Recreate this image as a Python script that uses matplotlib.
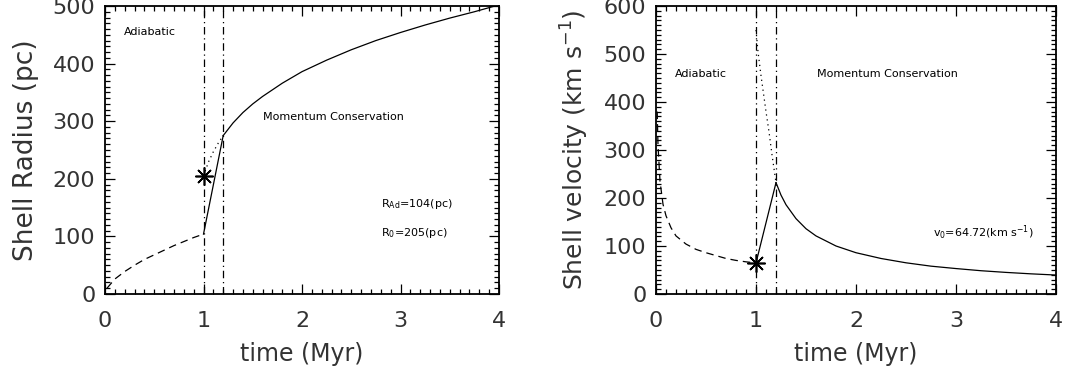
import matplotlib
matplotlib.use("Agg")
import matplotlib.pyplot as plt
from matplotlib.ticker import MultipleLocator

# ---------------- data ----------------
# Left panel: shell radius (pc) vs time (Myr)
t_ad_R = [0.02, 0.1, 0.2, 0.3, 0.4, 0.5, 0.6, 0.7, 0.8, 0.9, 1.0]
R_ad = [10, 26, 39, 50, 60, 68, 76, 84, 91, 98, 104]
t_jump_R = [1.0, 1.2]
R_jump = [104, 275]
t_dot_R = [1.0, 1.05, 1.1, 1.15, 1.2]
R_dot = [205, 229, 247, 262, 275]
t_mom_R = [1.2, 1.3, 1.4, 1.5, 1.6, 1.8, 2.0, 2.25, 2.5, 2.75, 3.0, 3.25, 3.5, 3.75, 4.0]
R_mom = [275, 297, 315, 330, 343, 366, 386, 406, 424, 440, 454, 467, 479, 490, 502]
t_star_R = [1.0]
R_star = [205]

# Right panel: shell velocity (km/s) vs time (Myr)
t_ad_v = [0.012, 0.02, 0.04, 0.07, 0.1, 0.15, 0.2, 0.3, 0.4, 0.5, 0.6, 0.7, 0.8, 0.9, 1.0]
v_ad = [380, 310, 235, 187, 163, 138, 121, 104, 93, 86, 80, 74, 70, 67, 64.7]
t_jump_v = [1.0, 1.2]
v_jump = [64.72, 232]
t_dot_v = [1.0, 1.02, 1.05, 1.08, 1.1, 1.13, 1.16, 1.2]
v_dot = [550, 505, 455, 410, 380, 338, 290, 232]
t_mom_v = [1.2, 1.25, 1.3, 1.4, 1.5, 1.6, 1.8, 2.0, 2.25, 2.5, 2.75, 3.0, 3.25, 3.5, 3.75, 4.0]
v_mom = [232, 206, 186, 157, 136, 121, 100, 86, 74, 65, 58, 53, 48.5, 45, 42, 39.5]
t_star_v = [1.0]
v_star = [64.72]

t_phase = [1.0, 1.2]
xticks = [0, 1, 2, 3, 4]

# ---------------- figure ----------------
fig = plt.figure(figsize=(10.73, 3.74), dpi=100)
TXT = '#333333'
plt.rcParams['font.family'] = ['DejaVu Sans']

ax1 = fig.add_axes([105/1073, 1-294/374, 394/1073, 288/374])
ax2 = fig.add_axes([656/1073, 1-294/374, 400/1073, 288/374])

star = dict(marker=(8, 2, 0), markersize=13, mew=1.2, color='k', linestyle='none')

def style(ax, ymax, ymajor, ymin):
    ax.set_xlim(0, 4)
    ax.set_ylim(0, ymax)
    ax.set_xticks(xticks)
    ax.xaxis.set_minor_locator(MultipleLocator(0.1))
    ax.yaxis.set_major_locator(MultipleLocator(ymajor))
    ax.yaxis.set_minor_locator(MultipleLocator(ymin))
    ax.tick_params(which='both', direction='in', top=True, right=True, width=0.9, color='k')
    ax.tick_params(which='major', length=7)
    ax.tick_params(which='minor', length=3.5)
    ax.tick_params(axis='x', which='major', pad=12, labelsize=16, labelcolor=TXT)
    ax.tick_params(axis='y', which='major', pad=7, labelsize=16, labelcolor=TXT)
    for s in ax.spines.values():
        s.set_linewidth(1.3)
    ax.set_xlabel('time (Myr)', fontsize=17, color=TXT, labelpad=8)
    for xv in t_phase:
        ax.axvline(xv, color='k', lw=0.9, linestyle=(0, (6, 3, 1, 3)))

# left panel
ax1.plot(t_ad_R, R_ad, color='k', lw=0.9, linestyle=(0, (6, 4)))
ax1.plot(t_jump_R, R_jump, color='k', lw=0.9)
ax1.plot(t_dot_R, R_dot, color='k', lw=0.9, linestyle=(0, (1, 3)))
ax1.plot(t_mom_R, R_mom, color='k', lw=0.9)
ax1.plot(t_star_R, R_star, **star)
style(ax1, 500, 100, 10)
ax1.set_ylabel('Shell Radius (pc)', fontsize=19, color=TXT, labelpad=10)
ax1.text(0.19, 455, 'Adiabatic', fontsize=8, va='center')
ax1.text(1.6, 307, 'Momentum Conservation', fontsize=8, va='center')
ax1.text(2.8, 156, r'R$_{\mathrm{Ad}}$=104(pc)', fontsize=8, va='center')
ax1.text(2.8, 106, r'R$_0$=205(pc)', fontsize=8, va='center')

# right panel
ax2.plot(t_ad_v, v_ad, color='k', lw=0.9, linestyle=(0, (6, 4)))
ax2.plot(t_jump_v, v_jump, color='k', lw=0.9)
ax2.plot(t_dot_v, v_dot, color='k', lw=0.9, linestyle=(0, (1, 3)))
ax2.plot(t_mom_v, v_mom, color='k', lw=0.9)
ax2.plot(t_star_v, v_star, **star)
style(ax2, 600, 100, 10)
ax2.set_ylabel(r'Shell velocity (km s$^{-1}$)', fontsize=18, color=TXT, labelpad=9)
ax2.text(0.19, 458, 'Adiabatic', fontsize=8, va='center')
ax2.text(1.61, 458, 'Momentum Conservation', fontsize=8, va='center')
ax2.text(2.77, 127, r'v$_0$=64.72(km s$^{-1}$)', fontsize=8, va='center')

fig.savefig('out.png', dpi=100)
